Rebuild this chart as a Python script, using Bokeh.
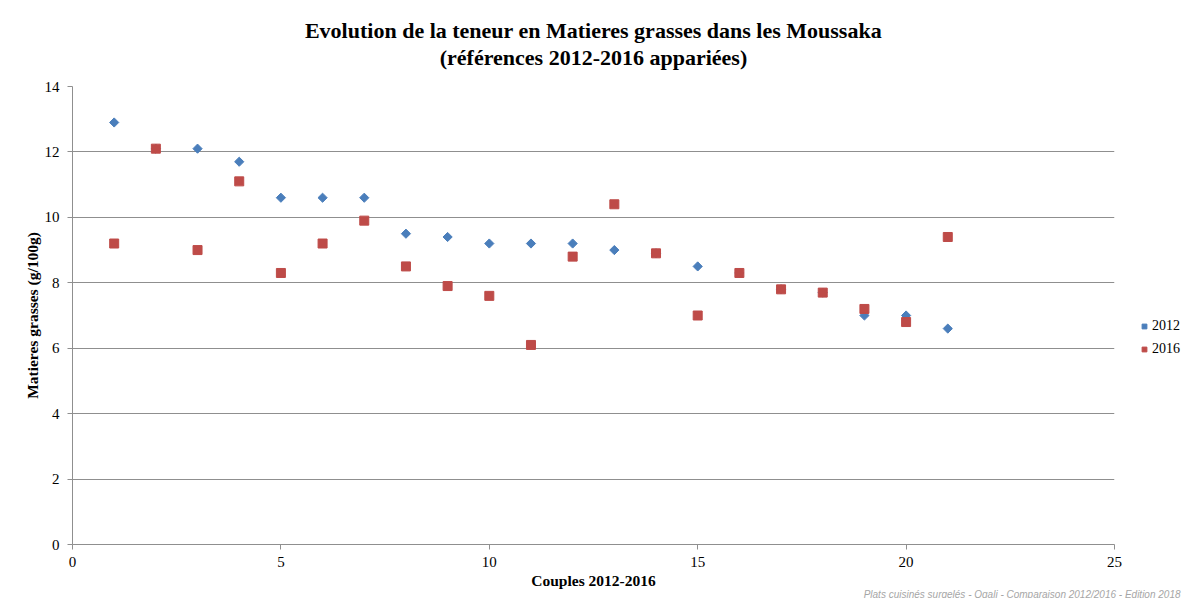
import math
from bokeh.plotting import figure
from bokeh.models import Title, Legend, LegendItem, Range1d, SingleIntervalTicker
from bokeh.embed import file_html
from bokeh.resources import INLINE

couples = list(range(1, 22))
fat_2012 = [12.9, 12.1, 12.1, 11.7, 10.6, 10.6, 10.6, 9.5, 9.4, 9.2, 9.2, 9.2, 9.0, 8.9, 8.5, 8.3, 7.8, 7.7, 7.0, 7.0, 6.6]
fat_2016 = [9.2, 12.1, 9.0, 11.1, 8.3, 9.2, 9.9, 8.5, 7.9, 7.6, 6.1, 8.8, 10.4, 8.9, 7.0, 8.3, 7.8, 7.7, 7.2, 6.8, 9.4]
series_names = ["2012", "2016"]
title_lines = ["Evolution de la teneur en Matieres grasses dans les Moussaka",
               "(références 2012-2016 appariées)"]
x_label = "Couples 2012-2016"
y_label = "Matieres grasses (g/100g)"
footer = "Plats cuisinés surgelés - Oqali - Comparaison 2012/2016 - Edition 2018"

SERIF = "Liberation Serif"
GRID = "#8f8f8f"

p = figure(frame_width=1042, height=598, output_backend="svg", toolbar_location=None,
           x_range=Range1d(0, 25), y_range=Range1d(0, 14), title=None,
           min_border_left=72, min_border_right=68, min_border_top=86, min_border_bottom=0)
p.outline_line_color = None
p.background_fill_color = "white"
p.border_fill_color = "white"

spacer = Title(text=" ", text_font_size="1px", standoff=14)
t2 = Title(text=title_lines[1], align="center", text_font=SERIF, text_font_size="22px",
           text_font_style="bold", text_color="#000000", standoff=0)
t1 = Title(text=title_lines[0], align="center", text_font=SERIF, text_font_size="22px",
           text_font_style="bold", text_color="#000000", standoff=0)
p.add_layout(spacer, "above")
p.add_layout(t2, "above")
p.add_layout(t1, "above")

ft = Title(text=footer, align="right", vertical_align="top", text_font="Liberation Sans",
           text_font_size="10px", text_font_style="italic", text_color="#a6a6a6",
           offset=-66, standoff=-6)
p.add_layout(ft, "below")

r1 = p.scatter(couples, fat_2012, marker="square", angle=math.pi / 4, size=6.5,
               fill_color="#4a7ebb", line_color="#4a7ebb")
r2 = p.scatter(couples, fat_2016, marker="square", size=9,
               fill_color="#be4b48", line_color="#be4b48")

p.xaxis.ticker = SingleIntervalTicker(interval=5)
p.yaxis.ticker = SingleIntervalTicker(interval=2)
for ax in (p.xaxis, p.yaxis):
    ax.axis_line_color = GRID
    ax.major_tick_line_color = GRID
    ax.minor_tick_line_color = None
    ax.major_tick_in = 0
    ax.major_tick_out = 5
    ax.major_label_text_font = SERIF
    ax.major_label_text_font_size = "15px"
    ax.major_label_text_color = "#000000"
    ax.axis_label_text_font = SERIF
    ax.axis_label_text_font_size = "15.5px"
    ax.axis_label_text_font_style = "bold"
    ax.axis_label_text_color = "#000000"
p.xaxis.axis_label = x_label
p.yaxis.axis_label = y_label
p.xaxis.major_label_standoff = 7
p.yaxis.major_label_standoff = 8
p.xaxis.axis_label_standoff = 2
p.yaxis.axis_label_standoff = 1

p.xgrid.grid_line_color = None
p.ygrid.grid_line_color = GRID
p.ygrid.grid_line_width = 1

legend = Legend(items=[LegendItem(label=series_names[0], renderers=[r1]),
                       LegendItem(label=series_names[1], renderers=[r2])],
                location=(24, 185), label_text_font=SERIF, label_text_font_size="14px",
                label_text_color="#000000", border_line_color=None, background_fill_alpha=0,
                padding=0, margin=0, spacing=3, glyph_width=12, glyph_height=20,
                label_height=20, label_standoff=2)
p.add_layout(legend, "right")

open("out.html", "w").write(file_html(p, INLINE))
